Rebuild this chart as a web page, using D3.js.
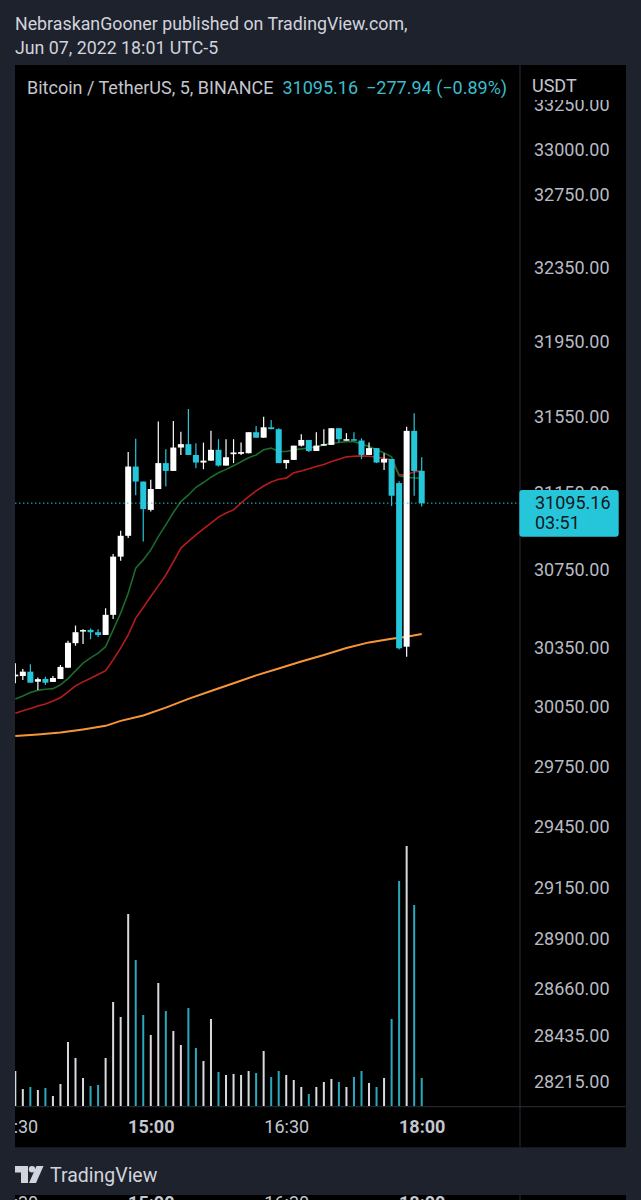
<!DOCTYPE html>
<html>
<head>
<meta charset="utf-8">
<script src="https://cdn.jsdelivr.net/npm/d3@7"></script>
<style>
  body { margin: 0; background: #1e222d; }
  text { font-family: Roboto, "Noto Sans", sans-serif; }
</style>
</head>
<body>
<svg id="chart" width="641" height="1200"></svg>
<script>
// 5 minute candles, BTC/USDT Binance, Jun 07 2022
const times = ["13:30","13:35","13:40","13:45","13:50","13:55","14:00","14:05","14:10","14:15",
  "14:20","14:25","14:30","14:35","14:40","14:45","14:50","14:55","15:00","15:05",
  "15:10","15:15","15:20","15:25","15:30","15:35","15:40","15:45","15:50","15:55",
  "16:00","16:05","16:10","16:15","16:20","16:25","16:30","16:35","16:40","16:45",
  "16:50","16:55","17:00","17:05","17:10","17:15","17:20","17:25","17:30","17:35",
  "17:40","17:45","17:50","17:55","18:00"];
const open = [30203,30205,30227,30176,30190,30175,30190,30247,30372,30432,
  30440,30428,30414,30517,30817,30925,31287,31208,31060,31169,
  31305,31264,31387,31405,31348,31308,31318,31375,31292,31352,
  31354,31357,31468,31439,31494,31484,31305,31322,31397,31427,
  31369,31397,31401,31489,31424,31431,31424,31348,31384,31308,
  31327,31200,30354,31475,31264];
const high = [30270,30241,30265,30197,30201,30205,30261,30385,30462,30443,
  30447,30443,30551,30831,30951,31363,31433,31208,31217,31524,
  31378,31527,31471,31591,31410,31413,31476,31431,31431,31431,
  31413,31468,31501,31550,31533,31489,31322,31397,31457,31427,
  31468,31484,31489,31489,31463,31468,31436,31413,31384,31357,
  31327,31210,31497,31568,31336];
const low = [30168,30185,30171,30134,30160,30175,30190,30247,30359,30368,
  30392,30404,30414,30496,30795,30913,31137,30895,31052,31169,
  31182,31264,31348,31348,31278,31273,31318,31287,31292,31305,
  31348,31357,31439,31439,31484,31305,31275,31322,31392,31363,
  31369,31397,31401,31413,31424,31424,31326,31348,31305,31269,
  31081,30340,30303,31134,31077];
const close = [30212,30227,30171,30189,30171,30195,30251,30374,30428,30439,
  30428,30414,30517,30817,30925,31287,31208,31064,31169,31305,
  31264,31387,31405,31348,31308,31318,31375,31292,31336,31361,
  31363,31468,31439,31494,31484,31305,31322,31397,31427,31369,
  31397,31405,31489,31431,31431,31424,31348,31384,31308,31327,
  31134,30346,31475,31264,31095.16];
const volume = [350,170,190,160,180,100,220,640,480,280,
  200,210,480,1040,890,1920,1460,910,710,1230,
  950,750,610,980,580,450,870,340,310,320,
  310,350,330,550,290,350,310,260,190,120,
  190,240,270,240,190,290,350,230,190,280,
  870,2250,2600,2010,280];
const emaFast = [30089,30104,30121,30132,30138,30141,30160,30192,30231,30270,
  30297,30321,30354,30440,30526,30628,30757,30800,30852,30921,
  30982,31046,31103,31138,31178,31203,31231,31254,31272,31291,
  31312,31333,31348,31375,31384,31366,31366,31375,31380,31385,
  31392,31401,31410,31414,31418,31418,31406,31392,31375,31359,
  31338,31238,31231,31227,31226];
const emaMid = [30016,30029,30041,30053,30063,30078,30095,30124,30155,30175,
  30194,30213,30232,30287,30347,30414,30500,30555,30611,30666,
  30722,30790,30861,30896,30930,30961,30991,31022,31044,31060,
  31096,31129,31159,31185,31206,31220,31226,31254,31264,31275,
  31287,31298,31313,31325,31338,31341,31343,31341,31336,31330,
  31322,31243,31243,31259,31264];
const emaSlowTimes = ["13:30","13:45","14:00","14:15","14:30","14:40","14:55","15:10","15:25","15:40",
  "15:55","16:10","16:25","16:40","16:55","17:10","17:25","17:40","17:50","18:00"];
const emaSlow = [29902,29910,29919,29935,29953,29978,30005,30045,30089,30129,
  30168,30208,30243,30279,30312,30347,30376,30395,30405,30419];
const priceTicks = [33250,33000,32750,32350,31950,31550,31150,30750,30350,30050,
  29750,29450,29150,28900,28660,28435,28215];
const timeTicks = ["13:30","15:00","16:30","18:00"];
const boldTicks = ["15:00","18:00"];
const lastPrice = 31095.16;
const change = "\u2212277.94 (\u22120.89%)";
const countdown = "03:51";

const svg = d3.select("#chart");
const W = 641, H = 1200;
const panel = { left: 15, top: 65, right: 626, bottom: 1147.3 };
const axisX = 520, paneBottom = 1106.7;
const upCol = "#ffffff", downCol = "#26c6da", gridCol = "#2a2e39", txtCol = "#b8bbc3";

const parse = d3.timeParse("%H:%M");
const x = d3.scaleTime().domain([parse("13:30"), parse("18:00")]).range([15.3, 421.7]);
const y = d3.scaleLog().domain([33000, 28215]).range([149.3, 1081.6]);
const v = d3.scaleLinear().domain([0, 2600]).range([1106, 846]);

const bars = times.map((t, i) => ({ t: parse(t), o: open[i], h: high[i], l: low[i], c: close[i], vol: volume[i] }));

svg.append("rect").attr("width", W).attr("height", H).attr("fill", "#1e222d");

// header
svg.append("text").attr("x", 15).attr("y", 30).attr("font-size", 17.8).attr("fill", "#d1d4dc")
  .text("NebraskanGooner published on TradingView.com,");
svg.append("text").attr("x", 15).attr("y", 54).attr("font-size", 17.8).attr("fill", "#d1d4dc")
  .text("Jun 07, 2022 18:01 UTC-5");

svg.append("rect").attr("x", panel.left).attr("y", panel.top)
  .attr("width", panel.right - panel.left).attr("height", panel.bottom - panel.top).attr("fill", "#000");

const defs = svg.append("defs");
defs.append("clipPath").attr("id", "pane").append("rect")
  .attr("x", panel.left).attr("y", panel.top).attr("width", axisX - panel.left).attr("height", paneBottom - panel.top);
defs.append("clipPath").attr("id", "paxis").append("rect")
  .attr("x", axisX).attr("y", 100).attr("width", panel.right - axisX).attr("height", paneBottom - 100);
defs.append("clipPath").attr("id", "taxis").append("rect")
  .attr("x", panel.left).attr("y", paneBottom).attr("width", axisX - panel.left).attr("height", H - paneBottom);

const pane = svg.append("g").attr("clip-path", "url(#pane)");

// volume
pane.append("g").selectAll("rect").data(bars).join("rect")
  .attr("x", d => x(d.t) - 1).attr("width", 2)
  .attr("y", d => v(d.vol)).attr("height", d => v(0) - v(d.vol))
  .attr("fill", d => d.c >= d.o ? "#d8dae0" : "#2aa9bd");

// moving averages
const line = d3.line().x(d => x(d[0])).y(d => y(d[1]));
pane.append("path").datum(emaSlowTimes.map((t, i) => [parse(t), emaSlow[i]]))
  .attr("d", line).attr("fill", "none").attr("stroke", "#f7953a").attr("stroke-width", 2);
pane.append("path").datum(times.map((t, i) => [parse(t), emaMid[i]]))
  .attr("d", line).attr("fill", "none").attr("stroke", "#b71c1c").attr("stroke-width", 1.6);
pane.append("path").datum(times.map((t, i) => [parse(t), emaFast[i]]))
  .attr("d", line).attr("fill", "none").attr("stroke", "#1b6b2a").attr("stroke-width", 1.6);

// candles
const cg = pane.append("g").selectAll("g").data(bars).join("g");
cg.append("line")
  .attr("x1", d => x(d.t)).attr("x2", d => x(d.t))
  .attr("y1", d => y(d.h)).attr("y2", d => y(d.l))
  .attr("stroke", d => d.c >= d.o ? upCol : downCol).attr("stroke-width", 1.2);
cg.append("rect")
  .attr("x", d => x(d.t) - 3).attr("width", 6)
  .attr("y", d => y(Math.max(d.o, d.c)))
  .attr("height", d => Math.max(1.5, y(Math.min(d.o, d.c)) - y(Math.max(d.o, d.c))))
  .attr("fill", d => d.c >= d.o ? upCol : downCol);

// last price line
pane.append("line").attr("x1", panel.left).attr("x2", axisX)
  .attr("y1", y(lastPrice)).attr("y2", y(lastPrice))
  .attr("stroke", downCol).attr("stroke-width", 1).attr("stroke-dasharray", "1.5,2.5");

// separators
svg.append("line").attr("x1", axisX).attr("x2", axisX).attr("y1", panel.top).attr("y2", panel.bottom)
  .attr("stroke", gridCol).attr("stroke-width", 1);
svg.append("line").attr("x1", panel.left).attr("x2", panel.right).attr("y1", paneBottom).attr("y2", paneBottom)
  .attr("stroke", gridCol).attr("stroke-width", 1);

// legend line
const leg = svg.append("text").attr("x", 27).attr("y", 94).attr("font-size", 18);
leg.append("tspan").attr("fill", "#c3c6ce").text("Bitcoin / TetherUS, 5, BINANCE");
leg.append("tspan").attr("dx", 9).attr("fill", "#3cbccd").text(d3.format(".2f")(lastPrice));
leg.append("tspan").attr("dx", 8).attr("fill", "#3cbccd").text(change);

// price axis
const pAxis = svg.append("g").attr("clip-path", "url(#paxis)")
  .append("g").attr("transform", `translate(${axisX},0)`)
  .call(d3.axisRight(y).tickValues(priceTicks).tickSize(0).tickPadding(14).tickFormat(d3.format(".2f")));
pAxis.select(".domain").remove();
pAxis.selectAll("text").attr("font-size", 18).attr("font-family", "Roboto, 'Noto Sans', sans-serif").attr("fill", txtCol);
svg.append("text").attr("x", 532).attr("y", 91.5).attr("font-size", 18).attr("fill", "#c3c6ce").text("USDT");

// last price tag
svg.append("rect").attr("x", 519.3).attr("y", 490).attr("width", 99.4).attr("height", 46.7)
  .attr("rx", 3).attr("fill", downCol);
svg.append("text").attr("x", 535).attr("y", 509.3).attr("font-size", 18).attr("fill", "#131722")
  .text(d3.format(".2f")(lastPrice));
svg.append("text").attr("x", 535).attr("y", 529.3).attr("font-size", 18).attr("fill", "#131722")
  .text(countdown);

// time axis (and the cut copy at the very bottom)
function timeAxis(ty) {
  const g = svg.append("g").attr("clip-path", "url(#taxis)")
    .append("g").attr("transform", `translate(0,${ty})`)
    .call(d3.axisBottom(x).tickValues(timeTicks.map(parse)).tickSize(0).tickPadding(14)
      .tickFormat(d3.timeFormat("%H:%M")));
  g.select(".domain").remove();
  g.selectAll("text").attr("font-size", 18).attr("font-family", "Roboto, 'Noto Sans', sans-serif")
    .attr("fill", "#c3c6ce")
    .attr("font-weight", d => boldTicks.includes(d3.timeFormat("%H:%M")(d)) ? 700 : 400);
}
timeAxis(paneBottom);

svg.append("rect").attr("x", panel.left).attr("y", 1195).attr("width", panel.right - panel.left)
  .attr("height", 5).attr("fill", "#000");
svg.append("line").attr("x1", axisX).attr("x2", axisX).attr("y1", 1195).attr("y2", H)
  .attr("stroke", gridCol);
timeAxis(1182);

// TradingView logo
const logo = svg.append("g").attr("fill", "#d1d4dc");
logo.append("path").attr("d", "M15,1166 H28 V1183 H21 V1172.5 H15 Z");
logo.append("circle").attr("cx", 32).attr("cy", 1169.2).attr("r", 3.2);
logo.append("path").attr("d", "M36.5,1166 H43.5 L36,1183 H29 Z");
svg.append("text").attr("x", 50).attr("y", 1181.7).attr("font-size", 19.5).attr("fill", "#d1d4dc")
  .text("TradingView");
</script>
</body>
</html>
